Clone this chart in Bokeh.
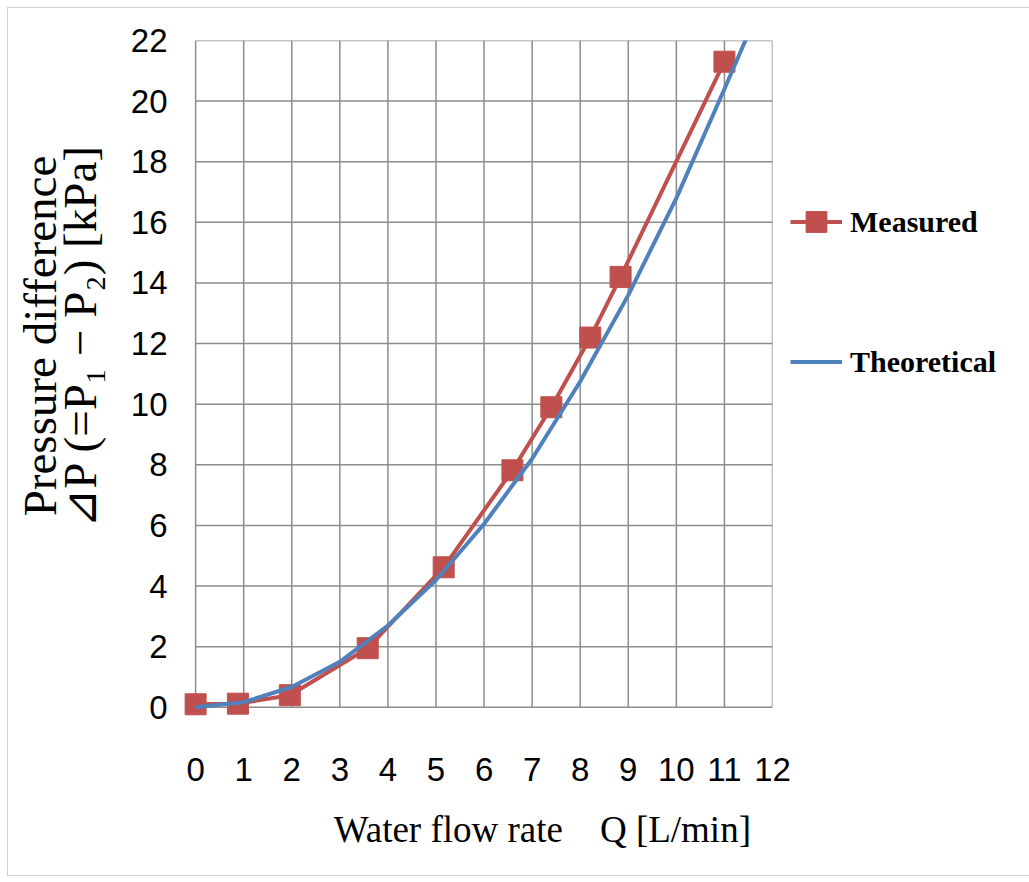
from bokeh.plotting import figure
from bokeh.models import Range1d, FixedTicker, Legend, LegendItem
from bokeh.embed import file_html
from bokeh.resources import INLINE

# ---- data ----
flow_measured = [0.0, 0.88, 1.96, 3.58, 5.16, 6.59, 7.40, 8.21, 8.84, 11.0]
dp_measured = [0.1, 0.12, 0.4, 1.95, 4.62, 7.82, 9.9, 12.2, 14.2, 21.3]

flow_theory = [0, 1, 2, 3, 4, 5, 6, 7, 8, 9, 10, 11, 11.6]
dp_theory = [0.0, 0.17, 0.67, 1.5, 2.7, 4.2, 6.05, 8.2, 10.75, 13.6, 16.8, 20.4, 22.6]

x_ticks = list(range(0, 13))
y_ticks = list(range(0, 23, 2))

series_names = ["Measured", "Theoretical"]
x_title = "Water flow rate\u00a0\u00a0\u00a0\u00a0Q [L/min]"
y_title_1 = "Pressure difference"
y_title_2 = "\u22bfP (=P\u2081 \u2212 P\u2082) [kPa]"

RED = "#C0504D"
BLUE = "#4F81BD"
GRID = "#8c8c8c"

NB = "\u00a0"

p = figure(frame_width=599, frame_height=685,
           x_range=Range1d(-0.46, 12), y_range=Range1d(-0.6, 22),
           output_backend="svg", toolbar_location=None,
           min_border_left=165, min_border_right=248,
           min_border_top=32, min_border_bottom=150)
p.margin = (8, 8, 8, 8)
p.styles = {"outline": "1px solid #d0d0d0"}

p.background_fill_color = "white"
p.border_fill_color = "white"
p.outline_line_color = None
p.xgrid.visible = False
p.ygrid.visible = False

p.xaxis.ticker = FixedTicker(ticks=x_ticks)
p.yaxis.ticker = FixedTicker(ticks=y_ticks)

for ax in (p.xaxis, p.yaxis):
    ax.axis_line_color = None
    ax.major_tick_line_color = None
    ax.minor_tick_line_color = None
    ax.major_tick_out = 0
    ax.major_tick_in = 0
    ax.major_label_text_font = "Liberation Sans"
    ax.major_label_text_font_size = "33px"
    ax.major_label_text_color = "black"
    ax.axis_label_text_font = "Liberation Serif"
    ax.axis_label_text_font_style = "normal"
    ax.axis_label_text_color = "black"
p.xaxis.major_label_standoff = 32
p.yaxis.major_label_standoff = 6

p.xaxis.axis_label = NB * 15 + x_title
p.xaxis.axis_label_text_font_size = "37px"
p.xaxis.axis_label_standoff = 25

p.yaxis.axis_label = NB * 8 + y_title_1 + "\n" + NB * 8 + y_title_2
p.yaxis.axis_label_text_font_size = "47px"
p.yaxis.axis_label_text_line_height = 0.76
p.yaxis.axis_label_text_align = "center"
p.yaxis.axis_label_standoff = 22

# grid / plot box from the tick arrays
nx, ny = len(x_ticks), len(y_ticks)
p.segment(x0=x_ticks, y0=[y_ticks[0]] * nx, x1=x_ticks, y1=[y_ticks[-1]] * nx,
          line_color=GRID, line_width=1.5)
p.segment(x0=[x_ticks[0]] * ny, y0=y_ticks, x1=[x_ticks[-1]] * ny, y1=y_ticks,
          line_color=GRID, line_width=1.5)

# series
r_line = p.line(flow_measured, dp_measured, line_color=RED, line_width=4)
r_pts = p.scatter(flow_measured, dp_measured, marker="square", size=21,
                  fill_color=RED, line_color=RED)
b_line = p.line(flow_theory, dp_theory, line_color=BLUE, line_width=4)

legend = Legend(items=[LegendItem(label=series_names[0], renderers=[r_line, r_pts]),
                       LegendItem(label=series_names[1], renderers=[b_line])],
                location=(18, 336), orientation="vertical",
                border_line_color=None, background_fill_alpha=0,
                label_text_font="Liberation Serif", label_text_font_style="bold",
                label_text_font_size="30px", label_text_color="black",
                glyph_width=52, glyph_height=55,
                spacing=85, padding=0, margin=0, label_standoff=8)
p.add_layout(legend, "right")

open("out.html", "w").write(file_html(p, INLINE))
